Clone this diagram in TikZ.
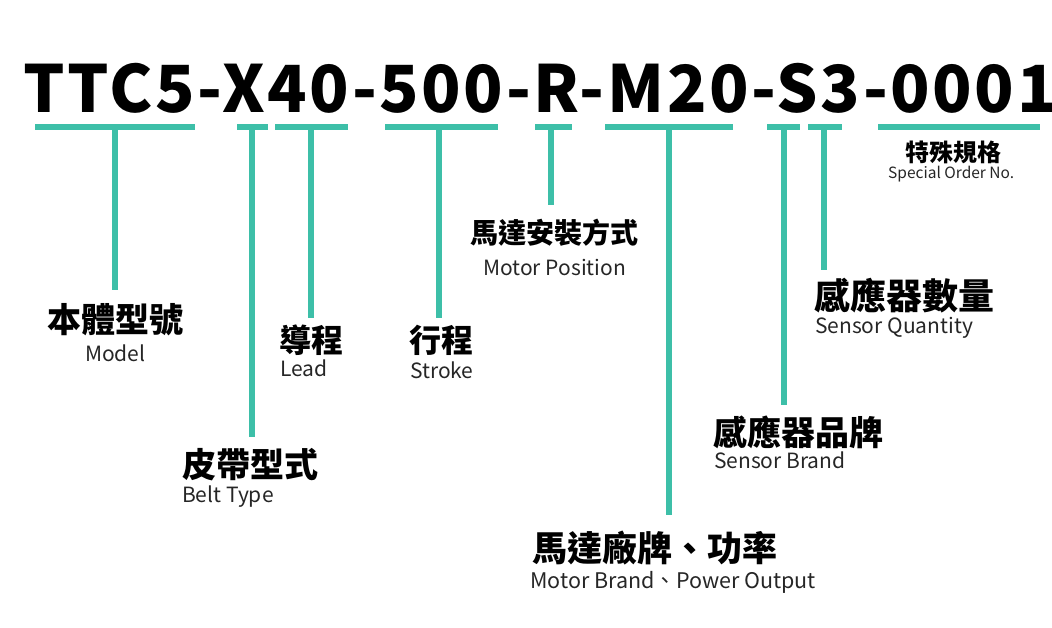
\documentclass[tikz,border=0pt]{standalone}
\usepackage{fontspec}
\setmainfont{Noto Sans CJK TC}
\newfontfamily\codefont[LetterSpace=4]{Noto Sans CJK TC}
\definecolor{codeteal}{HTML}{3DBFA8}
\begin{document}
\begin{tikzpicture}[x=1pt,y=-1pt]
  % Styles
  \tikzset{
    bar/.style={line width=6pt, draw=codeteal},
    stem/.style={line width=6pt, draw=codeteal},
    zh/.style={inner sep=0pt, anchor=west, font=\bfseries\fontsize{#1}{#1}\selectfont},
    en/.style={inner sep=0pt, anchor=west, font=\fontsize{#1}{#1}\selectfont, text=black!85}
  }
  \useasboundingbox (0,0) rectangle (1052,627);

  % Code
  \node (code) [inner sep=0pt, anchor=center, font=\codefont\bfseries\fontsize{65}{65}\selectfont] at (540,88) {TTC5-X40-500-R-M20-S3-0001};

  % Underlines and stems
  \foreach \name/\xa/\xb/\xs/\ys in {model/35/195/115/290, belt/237/268/252/437, lead/275/348/311/318,
      stroke/385/498/439/318, mpos/535/572/551/205, mbrand/605/733/669/515,
      sbrand/767/800/784/405, sqty/808/842/824/270} {
    \draw[bar] (\xa,127) -- (\xb,127);
    \coordinate (\name-top) at (\xs,127);
    \coordinate (\name-end) at (\xs,\ys);
    \draw[stem] (\name-top) -- (\name-end);
  }
  \draw[bar] (878,127) -- (1040,127);

  % Labels
  \node (model) [zh=34] at (47,320) {本體型號};
  \node (modelen) [en=21] at (85,353) {Model};
  \node (belt) [zh=34] at (182,465) {皮帶型式};
  \node (belten) [en=21] at (182,497) {Belt Type};
  \node (lead) [zh=32] at (279,340) {導程};
  \node (leaden) [en=21] at (280,368) {Lead};
  \node (stroke) [zh=32] at (409,340) {行程};
  \node (strokeen) [en=21] at (410,370) {Stroke};
  \node (mpos) [zh=28] at (470,233) {馬達安裝方式};
  \node (mposen) [en=21] at (483,267) {Motor Position};
  \node (mbrand) [zh=35] at (532,548) {馬達廠牌、功率};
  \node (mbranden) [en=21.5] at (530,582) {Motor Brand、Power Output};
  \node (sbrand) [zh=34] at (713,432) {感應器品牌};
  \node (sbranden) [en=21] at (714,460) {Sensor Brand};
  \node (sqty) [zh=36] at (814,296) {感應器數量};
  \node (sqtyen) [en=21] at (815,328) {Sensor Quantity};
  \node (special) [zh=24] at (905,152) {特殊規格};
  \node (specialen) [en=15.5] at (888,174) {Special Order No.};
\end{tikzpicture}
\end{document}
